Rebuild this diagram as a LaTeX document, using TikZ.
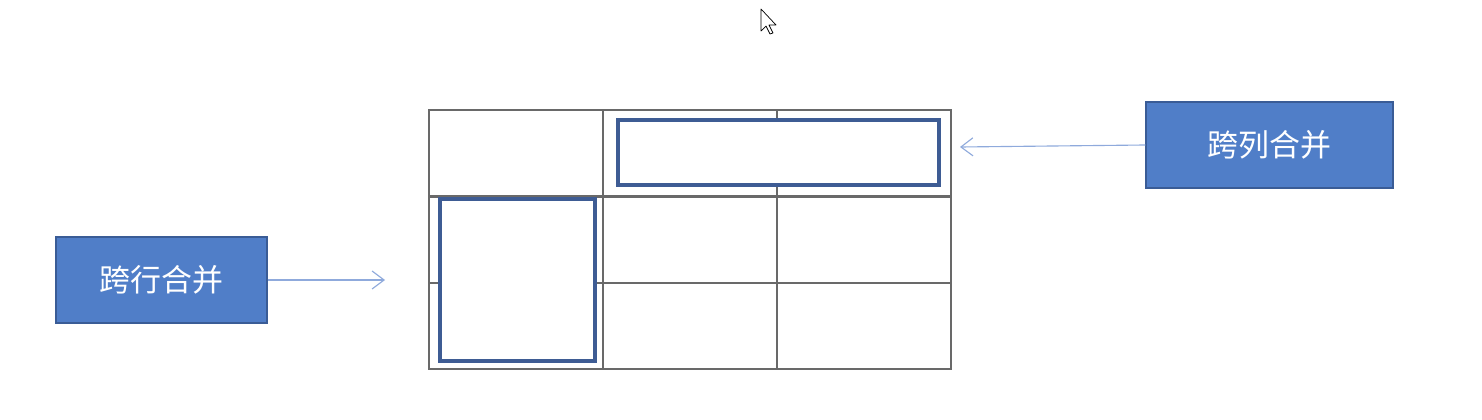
\documentclass[tikz,border=0pt]{standalone}
\usepackage{fontspec}
\newfontfamily\cjk{Noto Sans CJK SC}
\usetikzlibrary{arrows.meta, positioning, calc}
\definecolor{boxblue}{RGB}{80,126,200}
\definecolor{boxedge}{RGB}{58,92,150}
\definecolor{mergeblue}{RGB}{62,92,148}
\definecolor{gridgray}{RGB}{105,105,105}
\definecolor{arrowblue}{RGB}{143,170,220}
\tikzset{labelbox/.style={draw=boxedge, line width=1pt, fill=boxblue, text=white, font=\cjk\fontsize{22}{26}\selectfont, inner sep=0pt, minimum height=2.15cm}}
\tikzset{tablecell/.style={draw=gridgray, line width=1.5pt, anchor=north west, inner sep=0pt, minimum width=4.35cm, minimum height=2.16cm}}
\tikzset{mergecell/.style={draw=mergeblue, line width=2.4pt, fill=white, inner sep=0pt}}
\tikzset{pointer/.style={-{Straight Barb[length=3mm, width=4.5mm]}, draw=arrowblue, line width=0.8pt}}

\begin{document}
\begin{tikzpicture}[x=0.025cm, y=-0.025cm]
\useasboundingbox (0,0) rectangle (1482,420);

        % the 3x3 table
        \foreach \r in {0, 1, 2}{
            \foreach \c in {0, 1, 2}{
                \node[tablecell] (C\r\c) at (428+174*\c, 109+86.3*\r) {};
            }
        }

        % merged cells
        \node[mergecell, minimum width=8.025cm, minimum height=1.625cm] (colspan) at (778.5, 152.5) {};
        \node[mergecell, minimum width=3.875cm, minimum height=4.05cm] (rowspan) at (517.5, 280) {};

        % labels
        \node[labelbox, minimum width=5.275cm] (rowlabel) at (161.5, 280) {跨行合并};
        \node[labelbox, minimum width=6.175cm] (collabel) at (1269.5, 145) {跨列合并};

        \coordinate (rowtip) at (385, 280);
        \coordinate (coltip) at (960, 147);
        \draw[pointer] (rowlabel.east) -- (rowtip);
        \draw[pointer] (collabel.west) -- (coltip);

% mouse pointer
\filldraw[fill=white, draw=black, line width=0.5pt, line join=round]
    (761, 9) -- (761, 31) -- (766, 26) -- (770, 34) -- (773, 33) -- (769, 25) -- (776, 25) -- cycle;

    \end{tikzpicture}
\end{document}
